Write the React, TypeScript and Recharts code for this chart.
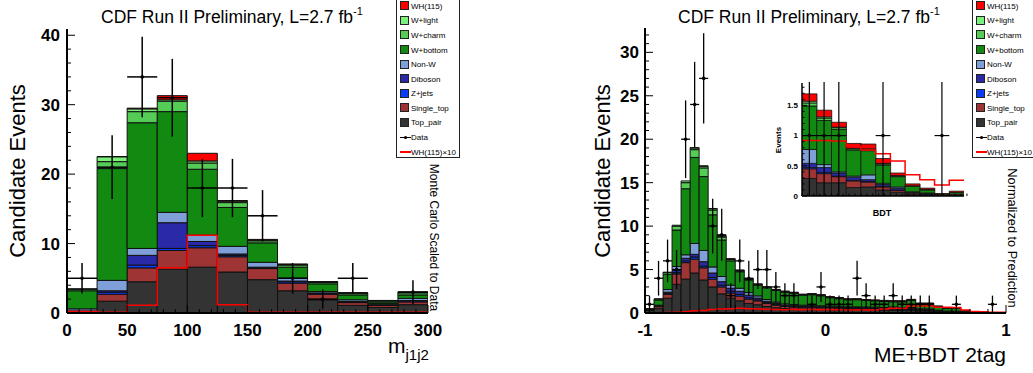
import React from 'react';
import { ComposedChart, Bar, Line, Scatter, ErrorBar, XAxis, YAxis } from 'recharts';

const FONT = '"Liberation Sans", Arial, Helvetica, sans-serif';

// stack order, bottom to top
const STACK = [
  { key: 'tp', name: 'Top_pair', color: '#333333' },
  { key: 'st', name: 'Single_top', color: '#9e3434' },
  { key: 'zj', name: 'Z+jets', color: '#0a3cff' },
  { key: 'db', name: 'Diboson', color: '#2a2aa8' },
  { key: 'nw', name: 'Non-W', color: '#7f9fd8' },
  { key: 'wb', name: 'W+bottom', color: '#128a12' },
  { key: 'wc', name: 'W+charm', color: '#55cc55' },
  { key: 'wl', name: 'W+light', color: '#7cf07c' },
  { key: 'wh', name: 'WH(115)', color: '#ff0000' },
];

// ---- left panel: m_j1j2
const massEdges = [0, 25, 50, 75, 100, 125, 150, 175, 200, 225, 250, 275, 300];
const massTopPair = [0.15, 1.7, 4.5, 6.3, 6.6, 5.9, 4.8, 3.2, 1.9, 1.1, 0.8, 1.2];
const massSingleTop = [0.1, 1.0, 2.0, 2.7, 2.8, 2.2, 1.6, 1.1, 0.8, 0.4, 0.3, 0.4];
const massZjets = [0.03, 0.3, 0.4, 0.3, 0.3, 0.2, 0.1, 0.2, 0.1, 0.1, 0.05, 0.15];
const massDiboson = [0.02, 0.2, 1.4, 3.7, 0.6, 0.2, 0.1, 0.1, 0.1, 0.05, 0.05, 0.05];
const massNonW = [0.3, 1.5, 1.0, 1.5, 0.9, 1.1, 0.7, 0.4, 0.2, 0.25, 0.15, 0.3];
const massWbottom = [2.6, 16.1, 18.1, 14.5, 9.5, 5.6, 2.8, 1.6, 1.1, 0.7, 0.25, 0.5];
const massWcharm = [0.2, 1.0, 1.6, 1.5, 0.9, 0.7, 0.3, 0.3, 0.2, 0.2, 0.15, 0.3];
const massWlight = [0.1, 0.7, 0.4, 0.2, 0.3, 0.2, 0.1, 0.1, 0.1, 0.1, 0.05, 0.1];
const massWH = [0, 0.03, 0.1, 0.6, 1.1, 0.1, 0.1, 0.05, 0.02, 0.01, 0.01, 0.01];
const massData = [5, 21, 34, 31, 18, 18, 14, 5, 2, 5, 0, 3];
const massDataErr = [2.2, 4.6, 5.8, 5.6, 4.2, 4.2, 3.7, 2.2, 1.4, 2.2, 0, 1.7];
const massWHx10 = [0.2, 0.1, 1.1, 6.5, 11.2, 1.2, 0.1, 0.1, 0.1, 0.1, 0.1, 0.1];

// ---- right panel: ME+BDT 2tag
const bdtEdges = [-1, -0.95, -0.9, -0.85, -0.8, -0.75, -0.7, -0.65, -0.6, -0.55, -0.5, -0.45, -0.4, -0.35, -0.3, -0.25, -0.2, -0.15, -0.1, -0.05, 0, 0.05, 0.1, 0.15, 0.2, 0.25, 0.3, 0.35, 0.4, 0.45, 0.5, 0.55, 0.6, 0.65, 0.7, 0.75, 0.8, 0.85, 0.9, 0.95, 1];
const bdtTopPair = [0.3, 0.55, 1.7, 3.3, 3.9, 4.6, 3.8, 3.0, 2.2, 1.7, 1.4, 1.1, 0.95, 0.75, 0.6, 0.5, 0.45, 0.45, 0.45, 0.4, 0.4, 0.38, 0.36, 0.35, 0.34, 0.33, 0.3, 0.3, 0.3, 0.28, 0.22, 0.2, 0.15, 0.1, 0.1, 0.05, 0.03, 0.02, 0.01, 0.01];
const bdtSingleTop = [0.08, 0.25, 0.45, 1.2, 1.9, 1.6, 1.4, 0.9, 0.8, 0.6, 0.55, 0.5, 0.45, 0.35, 0.3, 0.25, 0.25, 0.22, 0.22, 0.2, 0.2, 0.2, 0.18, 0.18, 0.18, 0.18, 0.17, 0.16, 0.15, 0.15, 0.12, 0.12, 0.08, 0.06, 0.06, 0.03, 0.02, 0.02, 0.01, 0.01];
const bdtZjets = [0.01, 0.02, 0.1, 0.15, 0.2, 0.25, 0.2, 0.2, 0.2, 0.2, 0.2, 0.15, 0.12, 0.1, 0.08, 0.06, 0.05, 0.05, 0.05, 0.05, 0.04, 0.04, 0.04, 0.04, 0.03, 0.03, 0.03, 0.03, 0.03, 0.03, 0.02, 0.02, 0.02, 0.01, 0.01, 0.01, 0, 0, 0, 0];
const bdtDiboson = [0.01, 0.03, 0.15, 0.25, 0.3, 0.3, 0.5, 0.5, 0.4, 0.35, 0.35, 0.3, 0.2, 0.15, 0.12, 0.1, 0.1, 0.08, 0.08, 0.08, 0.07, 0.07, 0.06, 0.06, 0.06, 0.06, 0.06, 0.06, 0.06, 0.06, 0.05, 0.05, 0.03, 0.02, 0.02, 0.01, 0.01, 0, 0, 0];
const bdtNonW = [0.03, 0.05, 0.3, 0.45, 0.4, 1.25, 1.3, 0.7, 0.6, 0.35, 0.35, 0.3, 0.25, 0.2, 0.15, 0.14, 0.12, 0.1, 0.1, 0.1, 0.1, 0.09, 0.08, 0.08, 0.08, 0.08, 0.08, 0.15, 0.1, 0.12, 0.08, 0.08, 0.05, 0.04, 0.03, 0.02, 0.01, 0.01, 0.01, 0];
const bdtWbottom = [0.05, 0.6, 1.75, 4.2, 7.6, 9.9, 8.5, 6.0, 4.2, 2.8, 1.9, 1.45, 1.25, 1.35, 1.35, 1.35, 1.3, 1.15, 1.2, 1.15, 0.95, 0.87, 0.8, 0.82, 0.75, 0.72, 0.7, 0.6, 0.65, 0.8, 0.55, 0.57, 0.4, 0.3, 0.31, 0.13, 0.04, 0.04, 0.02, 0.02];
const bdtWcharm = [0.02, 0.1, 0.2, 0.45, 0.7, 0.9, 1.0, 0.55, 0.35, 0.15, 0.1, 0.08, 0.06, 0.06, 0.06, 0.06, 0.06, 0.06, 0.06, 0.05, 0.05, 0.05, 0.05, 0.05, 0.05, 0.04, 0.04, 0.04, 0.04, 0.05, 0.04, 0.04, 0.02, 0.01, 0.01, 0.01, 0, 0, 0, 0];
const bdtWlight = [0, 0.02, 0.05, 0.1, 0.2, 0.2, 0.2, 0.15, 0.1, 0.05, 0.05, 0.02, 0.02, 0.02, 0.02, 0.02, 0.02, 0.02, 0.02, 0.02, 0.02, 0.02, 0.01, 0.01, 0.01, 0.01, 0.01, 0.01, 0.01, 0.02, 0.01, 0.01, 0.01, 0, 0, 0, 0, 0, 0, 0];
const bdtWH = [0, 0, 0, 0, 0, 0.02, 0.02, 0.03, 0.04, 0.05, 0.05, 0.05, 0.05, 0.04, 0.04, 0.04, 0.04, 0.04, 0.04, 0.05, 0.05, 0.05, 0.05, 0.05, 0.05, 0.05, 0.06, 0.06, 0.07, 0.06, 0.06, 0.06, 0.04, 0.03, 0.03, 0.01, 0.01, 0.01, 0.01, 0.01];
const bdtData = [1, 4, 6, 5, 20, 24, 27, 10, 9, 2, 6, 4, 5, 5, 3, 2, 2, 0, 1, 3, 1, 1, 1, 4, 2, 1, 1, 2, 1, 1, 1, 1, 0, 0, 1, 0, 0, 0, 1, 0];
const bdtDataErr = [1, 2, 2.45, 2.24, 4.47, 4.9, 5.2, 3.16, 3, 1.41, 2.45, 2, 2.24, 2.24, 1.73, 1.41, 1.41, 0, 1, 1.73, 1, 1, 1, 2, 1.41, 1, 1, 1.41, 1, 1, 1, 1, 0, 0, 1, 0, 0, 0, 1, 0];
const bdtWHx10 = [0.02, 0.03, 0.05, 0.1, 0.15, 0.25, 0.3, 0.4, 0.45, 0.5, 0.55, 0.5, 0.45, 0.42, 0.4, 0.38, 0.4, 0.38, 0.4, 0.38, 0.38, 0.36, 0.35, 0.34, 0.34, 0.35, 0.45, 0.54, 0.55, 0.8, 0.82, 0.8, 0.66, 0.65, 0.62, 0.34, 0.16, 0.14, 0.1, 0.1];

// ---- inset: BDT tail
const insetEdges = [0.45, 0.5, 0.55, 0.6, 0.65, 0.7, 0.75, 0.8, 0.85, 0.9, 0.95, 1];
const insetTopPair = [0.29, 0.22, 0.22, 0.14, 0.15, 0.1, 0.06, 0.03, 0.02, 0.01, 0.01];
const insetSingleTop = [0.16, 0.15, 0.1, 0.11, 0.08, 0.05, 0.03, 0.02, 0.01, 0.005, 0.02];
const insetZjets = [0.02, 0.02, 0.01, 0.01, 0.01, 0.01, 0.01, 0, 0, 0, 0];
const insetDiboson = [0.07, 0.08, 0.05, 0.05, 0.03, 0.03, 0.03, 0.01, 0.01, 0, 0];
const insetNonW = [0.23, 0.05, 0.02, 0.02, 0.08, 0.02, 0.02, 0.01, 0.01, 0, 0];
const insetWbottom = [0.72, 0.73, 0.7, 0.43, 0.4, 0.3, 0.17, 0.09, 0.05, 0.015, 0.03];
const insetWcharm = [0.05, 0.04, 0.03, 0.02, 0.02, 0.02, 0.01, 0.01, 0.01, 0, 0];
const insetWlight = [0.03, 0.02, 0.01, 0.01, 0.01, 0.01, 0.01, 0, 0, 0, 0];
const insetWH = [0.12, 0.11, 0.08, 0.08, 0.08, 0.08, 0.04, 0.03, 0.02, 0.01, 0.02];
const insetData = [1, 1, 1, 0, 0, 1, 0, 0, 0, 1, 0];
const insetDataErr = [1, 1, 1, 0, 0, 1, 0, 0, 0, 1, 0];
const insetWHx10 = [0.92, 0.92, 0.91, 0.82, 0.76, 0.7, 0.58, 0.35, 0.27, 0.18, 0.26];

const legendRows = ['WH(115)', 'W+light', 'W+charm', 'W+bottom', 'Non-W', 'Diboson', 'Z+jets', 'Single_top', 'Top_pair', 'Data', 'WH(115)×10'];

// tick positions (minor + major)
const range = (a: number, b: number, s: number) => {
  const out: number[] = [];
  const n = Math.round((b - a) / s);
  for (let i = 0; i <= n; i++) out.push(Math.round((a + i * s) * 10000) / 10000);
  return out;
};
const massXMajor = [0, 50, 100, 150, 200, 250, 300];
const massYMajor = [0, 10, 20, 30, 40];
const bdtXMajor = [-1, -0.5, 0, 0.5, 1];
const bdtYMajor = [0, 5, 10, 15, 20, 25, 30];
const insetXMajor = [0.5, 0.6, 0.7, 0.8, 0.9, 1];
const insetYMajor = [0, 0.5, 1, 1.5];

type Side = 'bottom' | 'top' | 'left' | 'right';

const makeTick = (side: Side, majors: number[], labels: number[], majorLen: number, minorLen: number, font: number, gap: number) =>
  (props: any) => {
    const { x, y, payload } = props;
    const v = Number(payload.value);
    const near = (arr: number[]) => arr.some(m => Math.abs(m - v) < 1e-6);
    const len = near(majors) ? majorLen : minorLen;
    let x2 = x, y2 = y, tx = x, ty = y;
    let anchor: 'middle' | 'end' = 'middle';
    if (side === 'bottom') { y2 = y - len; ty = y + gap; }
    if (side === 'top') { y2 = y + len; }
    if (side === 'left') { x2 = x + len; tx = x - gap; ty = y + font * 0.36; anchor = 'end'; }
    if (side === 'right') { x2 = x - len; }
    return (
      <g>
        <line x1={x} y1={y} x2={x2} y2={y2} stroke="#000" strokeWidth={1} />
        {near(labels) && (
          <text x={tx} y={ty} textAnchor={anchor} fontSize={font} fontWeight="bold" fontFamily={FONT} fill="#000">
            {String(v)}
          </text>
        )}
      </g>
    );
  };

const dotShape = (props: any) => <circle cx={props.cx} cy={props.cy} r={1.8} fill="#000" />;

interface PanelProps {
  left: number; top: number; width: number; height: number;
  margin: { top: number; right: number; bottom: number; left: number };
  yAxisW: number; xAxisH: number;
  edges: number[]; comps: Record<string, number[]>;
  data: number[]; err: number[]; whx10: number[];
  xMajor: number[]; xMinorStep: number; yDomain: [number, number]; yMajor: number[]; yMinorStep: number;
  font: number; xGap: number; yGap: number; majorLen: number; minorLen: number;
  frameW: number; barStrokeW: number; errW: number;
}

function HistPanel(p: PanelProps) {
  const xDomain: [number, number] = [p.edges[0], p.edges[p.edges.length - 1]];
  const rows = p.edges.slice(0, -1).map((e, i) => {
    const r: any = { x: (e + p.edges[i + 1]) / 2 };
    STACK.forEach(s => { r[s.key] = p.comps[s.key][i]; });
    return r;
  });
  const half = (p.edges[1] - p.edges[0]) / 2;
  const points = p.data
    .map((v, i) => ({ x: rows[i].x, y: v, ey: p.err[i], ex: half }))
    .filter(d => d.y > 0);
  const step = p.edges.map((e, i) => ({ x: e, v: p.whx10[Math.min(i, p.whx10.length - 1)] }));
  const xTicks = range(xDomain[0], xDomain[1], p.xMinorStep);
  const yTicks = range(0, Math.floor(p.yDomain[1] / p.yMinorStep) * p.yMinorStep, p.yMinorStep);
  const frame = { stroke: '#000', strokeWidth: p.frameW };
  return (
    <div style={{ position: 'absolute', left: p.left, top: p.top }}>
      <ComposedChart width={p.width} height={p.height} data={rows} margin={p.margin} barCategoryGap={0} barGap={0}>
        <XAxis xAxisId="x" dataKey="x" type="number" domain={xDomain} allowDataOverflow ticks={xTicks} interval={0}
          tickSize={0} tickMargin={0} tickLine={false} axisLine={frame} height={p.xAxisH}
          tick={makeTick('bottom', p.xMajor, p.xMajor, p.majorLen, p.minorLen, p.font, p.xGap)} />
        <XAxis xAxisId="t" orientation="top" dataKey="x" type="number" domain={xDomain} allowDataOverflow ticks={xTicks} interval={0}
          tickSize={0} tickMargin={0} tickLine={false} axisLine={frame} height={0}
          tick={makeTick('top', p.xMajor, [], p.majorLen, p.minorLen, p.font, 0)} />
        <YAxis yAxisId="y" type="number" domain={p.yDomain} allowDataOverflow ticks={yTicks} interval={0}
          tickSize={0} tickMargin={0} tickLine={false} axisLine={frame} width={p.yAxisW}
          tick={makeTick('left', p.yMajor, p.yMajor, p.majorLen, p.minorLen, p.font, p.yGap)} />
        <YAxis yAxisId="r" orientation="right" type="number" domain={p.yDomain} allowDataOverflow ticks={yTicks} interval={0}
          tickSize={0} tickMargin={0} tickLine={false} axisLine={frame} width={0}
          tick={makeTick('right', p.yMajor, [], p.majorLen, p.minorLen, p.font, 0)} />
        {STACK.map(s => (
          <Bar key={s.key} xAxisId="x" yAxisId="y" dataKey={s.key} stackId="mc" fill={s.color}
            stroke="#111" strokeWidth={p.barStrokeW} isAnimationActive={false} />
        ))}
        <Line xAxisId="t" yAxisId="y" data={step} dataKey="v" type="stepAfter" stroke="#ff0000"
          strokeWidth={1.5} dot={false} activeDot={false} isAnimationActive={false} />
        <Scatter xAxisId="x" yAxisId="y" data={points} dataKey="y" fill="#000" shape={dotShape} isAnimationActive={false}>
          <ErrorBar dataKey="ey" direction="y" width={0} stroke="#000" strokeWidth={p.errW} />
          <ErrorBar dataKey="ex" direction="x" width={0} stroke="#000" strokeWidth={p.errW} />
        </Scatter>
      </ComposedChart>
    </div>
  );
}

function LegendBox({ left, width }: { left: number; width: number }) {
  const colorOf: Record<string, string> = {};
  STACK.forEach(s => { colorOf[s.name] = s.color; });
  return (
    <div style={{
      position: 'absolute', left, top: -1, width, height: 157, border: '1px solid #222',
      background: '#fff', fontFamily: FONT, fontSize: 8, color: '#000',
    }}>
      {legendRows.map((name, i) => {
        const cy = 6.3 + 14.57 * i;
        let marker: React.ReactNode;
        if (name === 'Data') {
          marker = (
            <svg width={11} height={5} style={{ position: 'absolute', left: 3, top: cy - 2.5 }}>
              <line x1={0} y1={2.5} x2={11} y2={2.5} stroke="#000" strokeWidth={1} />
              <circle cx={5.5} cy={2.5} r={1.6} fill="#000" />
            </svg>
          );
        } else if (name.indexOf('×') >= 0) {
          marker = <div style={{ position: 'absolute', left: 3, top: cy - 0.75, width: 11, height: 1.5, background: '#ff0000' }} />;
        } else {
          marker = (
            <div style={{
              position: 'absolute', left: 3, top: cy - 5, width: 9, height: 9,
              background: colorOf[name], border: '0.8px solid #222', boxSizing: 'border-box',
            }} />
          );
        }
        return (
          <React.Fragment key={name}>
            {marker}
            <div style={{ position: 'absolute', left: 14, top: cy - 5.5, lineHeight: '11px', whiteSpace: 'nowrap' }}>{name}</div>
          </React.Fragment>
        );
      })}
    </div>
  );
}

const massComps = { tp: massTopPair, st: massSingleTop, zj: massZjets, db: massDiboson, nw: massNonW, wb: massWbottom, wc: massWcharm, wl: massWlight, wh: massWH };
const bdtComps = { tp: bdtTopPair, st: bdtSingleTop, zj: bdtZjets, db: bdtDiboson, nw: bdtNonW, wb: bdtWbottom, wc: bdtWcharm, wl: bdtWlight, wh: bdtWH };
const insetComps = { tp: insetTopPair, st: insetSingleTop, zj: insetZjets, db: insetDiboson, nw: insetNonW, wb: insetWbottom, wc: insetWcharm, wl: insetWlight, wh: insetWH };

export default function App() {
  return (
    <div style={{ position: 'absolute', left: 0, top: 0, width: 1033, height: 373, overflow: 'hidden', background: '#fff' }}>
      <HistPanel left={0} top={0} width={460} height={373}
        margin={{ top: 29, right: 32, bottom: 30, left: 17 }} yAxisW={50} xAxisH={30}
        edges={massEdges} comps={massComps} data={massData} err={massDataErr} whx10={massWHx10}
        xMajor={massXMajor} xMinorStep={10} yDomain={[0, 40.9]} yMajor={massYMajor} yMinorStep={2}
        font={17} xGap={23} yGap={7} majorLen={8} minorLen={4} frameW={2} barStrokeW={1} errW={1.5} />
      <HistPanel left={560} top={0} width={473} height={373}
        margin={{ top: 28, right: 27, bottom: 30, left: 35 }} yAxisW={50} xAxisH={30}
        edges={bdtEdges} comps={bdtComps} data={bdtData} err={bdtDataErr} whx10={bdtWHx10}
        xMajor={bdtXMajor} xMinorStep={0.1} yDomain={[0, 32.8]} yMajor={bdtYMajor} yMinorStep={1}
        font={17} xGap={23} yGap={6} majorLen={8} minorLen={4} frameW={2} barStrokeW={1} errW={1.3} />
      <HistPanel left={760} top={82} width={210} height={138}
        margin={{ top: 1, right: 6, bottom: 0, left: 6 }} yAxisW={36} xAxisH={24}
        edges={insetEdges} comps={insetComps} data={insetData} err={insetDataErr} whx10={insetWHx10}
        xMajor={insetXMajor} xMinorStep={0.02} yDomain={[0, 1.87]} yMajor={insetYMajor} yMinorStep={0.1}
        font={8} xGap={10.5} yGap={4} majorLen={5} minorLen={2.5} frameW={1.5} barStrokeW={0.8} errW={1.2} />
      <LegendBox left={396} width={62} />
      <LegendBox left={972} width={72} />
      <svg width={1033} height={373} style={{ position: 'absolute', left: 0, top: 0, pointerEvents: 'none' }} fontFamily={FONT}>
        <text x={101} y={23} fontSize={17.5} fill="#000">
          CDF Run II Preliminary, L=2.7 fb<tspan fontSize={11} dy={-8}>-1</tspan>
        </text>
        <text x={678} y={23} fontSize={17.5} fill="#000">
          CDF Run II Preliminary, L=2.7 fb<tspan fontSize={11} dy={-8}>-1</tspan>
        </text>
        <text x={25} y={171} fontSize={22} textAnchor="middle" transform="rotate(-90 25 171)" fill="#000">Candidate Events</text>
        <text x={610} y={171} fontSize={22} textAnchor="middle" transform="rotate(-90 610 171)" fill="#000">Candidate Events</text>
        <text x={430} y={237.5} fontSize={12} textAnchor="middle" transform="rotate(90 430 237.5)" fill="#000">Monte Carlo Scaled to Data</text>
        <text x={1008} y={238} fontSize={12.8} textAnchor="middle" transform="rotate(90 1008 238)" fill="#000">Normalized to Prediction</text>
        <text x={388} y={353} fontSize={21} fill="#000">m<tspan fontSize={15} dy={7}>j1j2</tspan></text>
        <text x={1006} y={362} fontSize={21} textAnchor="end" fill="#000">ME+BDT 2tag</text>
        <text x={882} y={216} fontSize={9} fontWeight="bold" textAnchor="middle" fill="#000">BDT</text>
        <text x={781} y={140} fontSize={8} fontWeight="bold" textAnchor="middle" transform="rotate(-90 781 140)" fill="#000">Events</text>
      </svg>
    </div>
  );
}
